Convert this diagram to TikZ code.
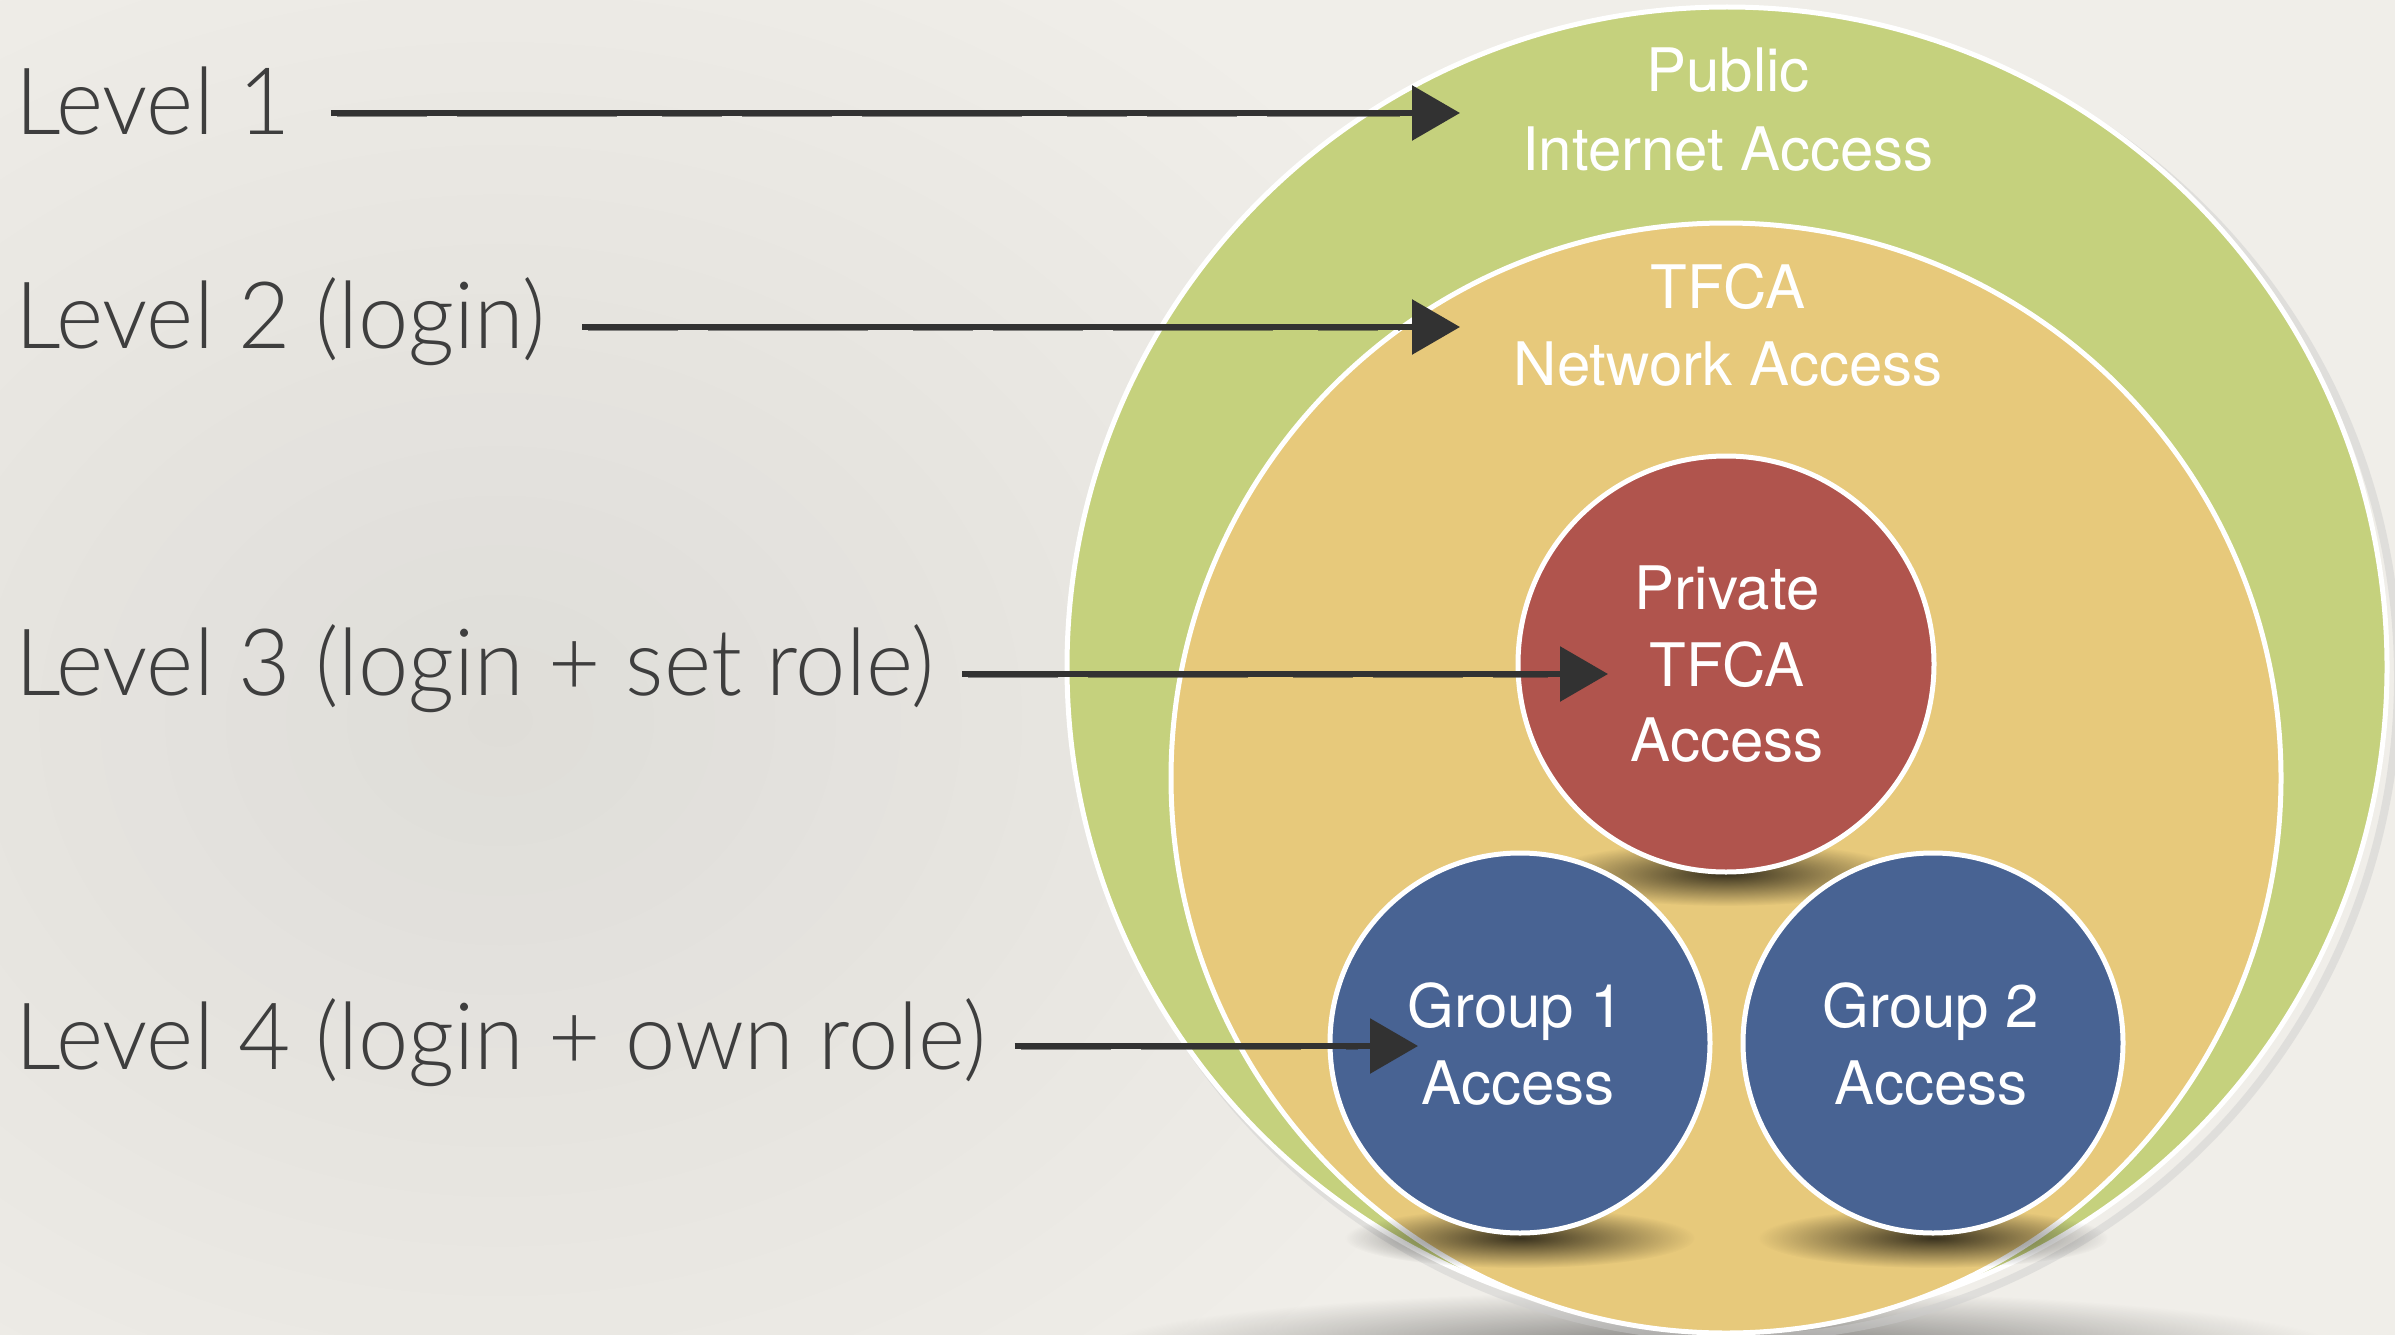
\documentclass[tikz,border=0pt]{standalone}
\usepackage{fontspec}
\usetikzlibrary{arrows.meta,fadings,calc}
\IfFontExistsTF{Lato Light}{\newfontfamily\thinfont{Lato Light}[FakeStretch=0.97]}{\newfontfamily\thinfont{TeX Gyre Heros}}
\newfontfamily\labfont{TeX Gyre Heros}
\definecolor{bg}{RGB}{240,238,233}
\definecolor{ringgreen}{RGB}{197,209,125}
\definecolor{ringyellow}{RGB}{231,201,123}
\definecolor{privred}{RGB}{176,84,77}
\definecolor{grpblue}{RGB}{72,99,147}
\definecolor{ink}{RGB}{62,62,62}
\definecolor{brush}{RGB}{50,50,50}
\tikzfading[name=softfade, inner color=transparent!0, outer color=transparent!100]
\begin{document}
\begin{tikzpicture}[x=1pt,y=-1pt,
  zone/.style={circle, draw=white, line width=5pt, inner sep=0pt, outer sep=0pt},
  lvl/.style={anchor=base west, text=ink, font=\thinfont\fontsize{93}{93}\selectfont, inner sep=0pt},
  inlab/.style={anchor=base, text=white, font=\labfont\fontsize{60}{60}\selectfont, inner sep=0pt},
  brushline/.style={draw=brush, line width=6pt, -{Triangle[length=48pt,width=54pt]}},
  brushrag/.style={draw=brush, line width=2.5pt, opacity=.55, dash pattern=on 90pt off 30pt on 160pt off 45pt on 60pt off 20pt},
  softshadow/.style={fill=black, path fading=softfade},
]
\useasboundingbox (0,0) rectangle (2395,1335);
% background
\fill[bg] (0,0) rectangle (2395,1335);
\fill[softshadow, opacity=.07] (500,720) ellipse [x radius=1100pt, y radius=900pt];
% big shadow below the rings
\fill[softshadow, opacity=.5] (1720,1350) ellipse [x radius=620pt, y radius=60pt];
\draw[black!20, line width=8pt, opacity=.45] (1737,677) circle [radius=661pt];
% rings
\node[zone, fill=ringgreen, minimum size=1320pt] (pub) at (1727,667) {};
\node[zone, fill=ringyellow, minimum size=1110pt] (net) at (1726,778) {};
% contact shadows
\fill[softshadow, opacity=.75] (1726,874) ellipse [x radius=180pt, y radius=32pt];
\fill[softshadow, opacity=.75] (1520,1238) ellipse [x radius=175pt, y radius=30pt];
\fill[softshadow, opacity=.75] (1933,1238) ellipse [x radius=175pt, y radius=30pt];
% inner circles
\node[zone, fill=privred, minimum size=416pt] (priv) at (1726,664) {};
\node[zone, fill=grpblue, minimum size=380pt] (g1) at (1520,1043) {};
\node[zone, fill=grpblue, minimum size=380pt] (g2) at (1933,1043) {};
% circle labels
\node[inlab] (pubA) at (1728,92) {Public};
\node[inlab] (pubB) at (1728,170) {Internet Access};
\node[inlab] (netA) at (1728,308) {TFCA};
\node[inlab] (netB) at (1728,385) {Network Access};
\node[inlab] (privA) at (1727,609) {Private};
\node[inlab] (privB) at (1727,686) {TFCA};
\node[inlab] (privC) at (1727,761) {Access};
\node[inlab] (g1A) at (1516,1027) {Group 1};
\node[inlab] (g1B) at (1518,1104) {Access};
\node[inlab] (g2A) at (1931,1027) {Group 2};
\node[inlab] (g2B) at (1931,1104) {Access};
% level labels
\node[lvl] (l1) at (15,135) {Level 1};
\node[lvl] (l2) at (15,348) {Level 2 (login)};
\node[lvl] (l3) at (15,695) {Level 3 (login + set role)};
\node[lvl] (l4) at (15,1069) {Level 4 (login + own role)};
% arrows
\coordinate (s1) at ($(l1.base east)+(40,-22)$);
\coordinate (s2) at ($(l2.base east)+(36,-21)$);
\coordinate (s3) at ($(l3.base east)+(28,-21)$);
\coordinate (s4) at ($(l4.base east)+(28,-23)$);
\coordinate (t1) at (1460,113);
\coordinate (t2) at (1460,326);
\coordinate (t3) at (1608,674);
\coordinate (t4) at (1418,1046);
\draw[brushline] (s1) -- (s1 -| t1);
\draw[brushline] (s2) -- (s2 -| t2);
\draw[brushline] (s3) -- (s3 -| t3);
\draw[brushline] (s4) -- (s4 -| t4);
\draw[brushrag] ($(s1)+(6,3)$) -- ($(s1 -| t1)+(-60,3)$);
\draw[brushrag] ($(s2)+(6,3)$) -- ($(s2 -| t2)+(-60,3)$);
\draw[brushrag] ($(s3)+(6,3)$) -- ($(s3 -| t3)+(-60,3)$);
\draw[brushrag] ($(s4)+(6,3)$) -- ($(s4 -| t4)+(-60,3)$);
\end{tikzpicture}
\end{document}
